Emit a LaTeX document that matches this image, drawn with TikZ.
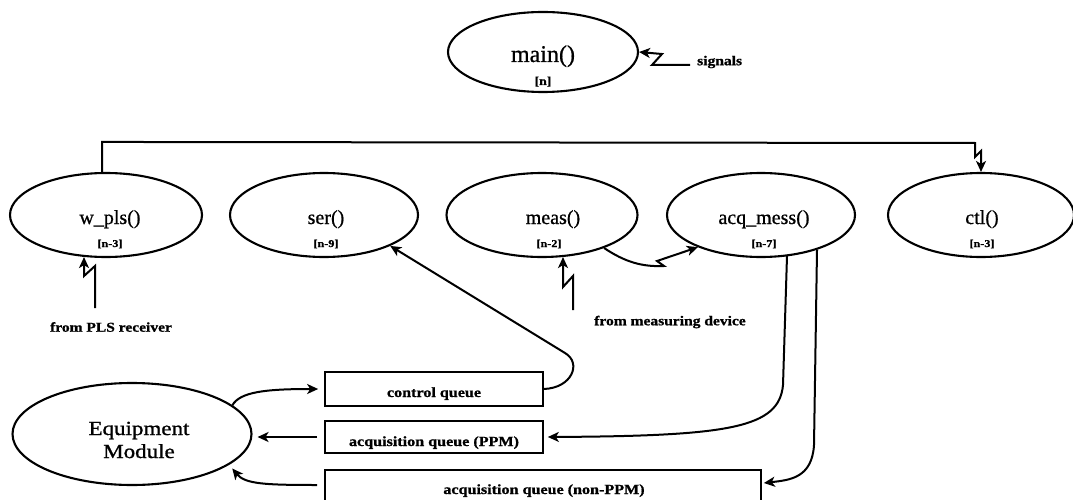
\documentclass[tikz,border=0pt]{standalone}
\usepackage{fontspec}
\setmainfont{Liberation Serif}
\newfontfamily\lbl[FakeStretch=1.15,FakeBold=1]{Liberation Serif}
\newfontfamily\fnfont[FakeBold=0.8]{Liberation Serif}
\usetikzlibrary{shapes.geometric,arrows.meta,calc}
\begin{document}
\begin{tikzpicture}[x=1pt,y=-1pt,
  ell/.style={ellipse,draw,line width=2.1pt,minimum width=190pt,minimum height=84pt,inner sep=0pt},
  fn/.style={font={\fnfont\fontsize{20}{24}\selectfont},anchor=base,inner sep=0pt},
  tag/.style={font={\lbl\bfseries\fontsize{10.5}{12}\selectfont},anchor=base,inner sep=0pt},
  note/.style={font={\lbl\bfseries\fontsize{13.5}{15}\selectfont},inner sep=0pt},
  qbox/.style={draw,line width=1.7pt,inner sep=0pt,minimum height=33pt},
  qtext/.style={font={\lbl\bfseries\fontsize{14}{16}\selectfont},anchor=base,inner sep=0pt},
  arr/.style={line width=2pt,-{Stealth[length=11pt,width=10pt,inset=3pt]}}
]
\useasboundingbox (0,0) rectangle (1073,500);
\clip (0,0) rectangle (1073,500);

% process ellipses
\node[ell,minimum height=80pt] (main) at (543,52) {};
\node[fn,font={\fnfont\fontsize{24}{28}\selectfont}] (maint) at (543,62) {main()};
\node[tag,font={\lbl\bfseries\fontsize{12}{14}\selectfont}] (mainn) at (543,85) {[n]};

\node[ell,minimum width=192pt] (w) at (106,215) {};
\node[fn] (wt) at (110,224) {w\_pls()};
\node[tag] (wn) at (110,247) {[n-3]};

\node[ell,minimum width=188pt] (s) at (324,215) {};
\node[fn] (st) at (326,224) {ser()};
\node[tag] (sn) at (326,247) {[n-9]};

\node[ell,minimum width=191pt] (m) at (542,215) {};
\node[fn] (mt) at (553,224) {meas()};
\node[tag] (mn) at (549,247) {[n-2]};

\node[ell,minimum width=188pt] (a) at (761,215) {};
\node[fn] (at) at (764,224) {acq\_mess()};
\node[tag] (an) at (764,247) {[n-7]};

\node[ell,minimum width=186pt] (ctl) at (981,215) {};
\node[fn] (ct) at (982,224) {ctl()};
\node[tag] (cn) at (982,247) {[n-3]};

% equipment module
\node[ell,minimum width=239pt,minimum height=102pt] (eq) at (132,434) {};
\node[anchor=base,inner sep=0pt,font={\lbl\fontsize{20}{23}\selectfont}] (eqt1) at (139,435) {Equipment};
\node[anchor=base,inner sep=0pt,font={\lbl\fontsize{20}{23}\selectfont}] (eqt2) at (139,458) {Module};

% queues
\node[qbox,minimum width=218pt,minimum height=34pt] (cq) at (434,389) {};
\node[qtext] (cqt) at (434,397) {control queue};
\node[qbox,minimum width=218pt,minimum height=32pt] (pq) at (434,437) {};
\node[qtext] (pqt) at (434,446) {acquisition queue (PPM)};
\node[qbox,minimum width=436pt,minimum height=32pt] (nq) at (543,486) {};
\node[qtext] (nqt) at (544,494) {acquisition queue (non-PPM)};

% free labels
\node[note,anchor=west] (signals) at (697,62) {signals};
\node[note] (plsl) at (111,327) {from PLS receiver};
\node[note] (measl) at (670,322) {from measuring device};

% signals into main
\coordinate (sig) at (690,65);
\draw[arr] (sig) -- (652,65) -- (662,54) -- (main.east);

% bus from w_pls to ctl
\draw[arr] ($(w.north)+(-4,0)$) -- ++(0,-30) -- (975,143) -- (975,157) -- (981,151) -- (ctl.north);

% external inputs
\coordinate (plsin) at (95,308);
\draw[arr] (plsin) -- (95,266) -- (84,276) -- ($(w.south)+(-22,-1)$);
\coordinate (measin) at (573,310);
\draw[arr] (measin) -- (573,276) -- (563,287) -- ($(m.south)+(21,-1)$);

% meas -> acq_mess
\draw[arr] (m.-28) .. controls (625,262) and (642,267) .. (664,266) -- (657,261) -- (a.-153);

% control queue -> ser
\draw[arr] (cq.east) .. controls (572,388) and (582,363) .. (565,353) -- (s.-25);

% acq_mess -> queues
\draw[arr] ($(a.south)+(26,-2)$) -- (783,385) .. controls (779,428) and (730,436) .. ($(pq.east)+(4,0)$);
\draw[arr] ($(a.south)+(56,-8)$) -- (814,445) .. controls (812,478) and (790,480) .. ($(nq.east)+(2,-3)$);

% equipment module <-> queues
\draw[arr] (eq.16) .. controls (240,392) and (265,389) .. ($(cq.west)+(-6,0)$);
\draw[arr] ($(pq.west)+(-7,0)$) -- ($(eq.east |- pq.west)+(5,0)$);
\draw[arr] ($(nq.west)+(-7,-1)$) .. controls (265,485) and (245,484) .. ($(eq.-19)+(6,2)$);
\end{tikzpicture}
\end{document}
